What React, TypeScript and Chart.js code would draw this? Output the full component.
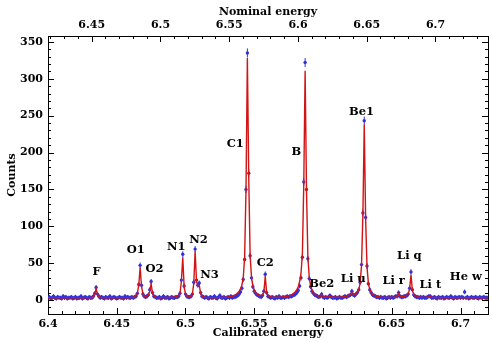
import React, { useEffect, useRef } from 'react';
import { Chart, registerables } from 'chart.js';

Chart.register(...registerables);

// ---- data ----
const binStart = 6.4; // calibrated energy of first bin
const binWidth = 0.001;

// measured counts, one per bin (rows of 20 bins = 0.02 in energy)
const counts = [
  3, 4, 2, 3, 5, 3, 2, 4, 3, 3, 2, 5, 3, 4, 2, 3, 3, 4, 2, 3,
  4, 2, 3, 3, 5, 2, 3, 4, 3, 2, 4, 3, 3, 5, 9, 17, 8, 5, 3, 4,
  3, 2, 4, 3, 3, 5, 2, 3, 4, 3, 2, 3, 4, 3, 3, 2, 5, 3, 4, 3,
  3, 4, 3, 4, 5, 9, 21, 47, 20, 8, 5, 4, 5, 7, 14, 25, 10, 5, 4, 3,
  3, 4, 2, 3, 5, 3, 3, 4, 2, 3, 4, 3, 3, 4, 4, 5, 9, 27, 62, 19,
  8, 5, 4, 4, 5, 8, 24, 69, 27, 20, 23, 10, 5, 4, 3, 4, 3, 2, 4, 3,
  3, 5, 3, 2, 4, 6, 3, 3, 4, 2, 3, 4, 3, 5, 3, 4, 4, 5, 6, 8,
  11, 16, 28, 55, 150, 335, 172, 60, 30, 18, 12, 9, 7, 6, 5, 4, 6, 12, 35, 10,
  5, 4, 3, 4, 3, 2, 4, 3, 5, 3, 3, 4, 3, 4, 5, 4, 5, 5, 6, 7,
  8, 10, 13, 19, 30, 58, 160, 322, 150, 56, 29, 18, 12, 9, 7, 6, 5, 4, 5, 8,
  4, 3, 4, 3, 4, 6, 4, 3, 3, 4, 2, 3, 4, 3, 3, 4, 5, 4, 5, 6,
  7, 12, 7, 6, 8, 10, 14, 24, 48, 118, 243, 112, 46, 22, 14, 10, 7, 6, 5, 4,
  4, 3, 4, 3, 3, 4, 2, 3, 4, 3, 4, 3, 4, 5, 5, 10, 5, 4, 4, 5,
  5, 6, 8, 16, 38, 14, 7, 5, 4, 4, 3, 4, 3, 4, 3, 3, 4, 5, 5, 3,
  3, 4, 3, 2, 4, 3, 3, 4, 2, 3, 4, 3, 3, 5, 3, 2, 4, 3, 3, 4,
  3, 4, 3, 11, 3, 4, 2, 3, 4, 3, 3, 4, 3, 2, 4, 3, 3, 4, 3, 3,
  3,
];

// fitted model, one per bin
const fit = [
  2.8, 2.8, 2.8, 2.8, 2.8, 2.8, 2.8, 2.8, 2.8, 2.8, 2.8, 2.8, 2.8, 2.8, 2.8, 2.8, 2.8, 2.8, 2.8, 2.8,
  2.8, 2.8, 2.8, 2.8, 2.8, 2.8, 2.8, 2.8, 2.8, 2.8, 2.8, 2.8, 3.2, 4.5, 8, 15, 7.5, 4.2, 3.3, 3,
  2.9, 2.9, 2.9, 2.9, 2.9, 2.9, 2.9, 2.9, 2.9, 2.9, 2.9, 2.9, 2.9, 2.9, 2.9, 2.9, 2.9, 3, 3, 3.1,
  3.2, 3.4, 3.7, 4.3, 5.5, 9, 20, 44, 19, 8.5, 5.5, 4.8, 5.2, 6.5, 12, 22, 9.5, 5.3, 4, 3.5,
  3.2, 3.1, 3, 3, 3.1, 3.2, 3.3, 3.4, 3.5, 3.6, 3.7, 3.8, 4, 4.3, 5, 6, 9, 25, 58, 18,
  8, 5.5, 4.8, 4.8, 5.5, 8, 22, 66, 26, 19, 20, 9, 5.5, 4.3, 3.8, 3.5, 3.3, 3.2, 3.1, 3.1,
  3.1, 3.1, 3.1, 3.2, 3.2, 3.3, 3.4, 3.5, 3.6, 3.7, 3.9, 4.1, 4.4, 4.8, 5.3, 6, 6.8, 8, 9.7, 12,
  15, 20, 30, 58, 150, 328, 165, 60, 31, 19, 13, 10, 8, 6.8, 6, 5.8, 6.5, 11, 32, 10,
  6, 4.8, 4.3, 4, 3.8, 3.7, 3.7, 3.7, 3.8, 3.9, 4, 4.2, 4.4, 4.7, 5, 5.4, 6, 6.8, 7.8, 9.5,
  11.5, 14, 18, 25, 36, 62, 155, 311, 148, 58, 31, 19, 13, 10, 8, 6.6, 5.8, 5.3, 5.4, 7,
  4.8, 4.3, 4, 3.9, 4.2, 5, 4.2, 3.8, 3.7, 3.7, 3.7, 3.8, 3.9, 4, 4.2, 4.4, 4.7, 5, 5.6, 6.8,
  8, 10, 8, 7.8, 8.6, 10.5, 14, 23, 46, 115, 238, 110, 45, 23, 14.5, 10.5, 8, 6.6, 5.7, 5,
  4.6, 4.2, 3.9, 3.7, 3.6, 3.5, 3.4, 3.4, 3.4, 3.4, 3.5, 3.6, 3.8, 4.1, 5, 9, 5, 4.3, 4.5, 5,
  5.5, 6.5, 8.5, 15, 34, 13, 7.5, 5.5, 4.6, 4.1, 3.8, 3.6, 3.5, 3.5, 3.5, 3.6, 3.9, 4.3, 4, 3.6,
  3.4, 3.3, 3.2, 3.2, 3.1, 3.1, 3.1, 3.1, 3, 3, 3, 3, 3, 3, 3, 3, 3, 3, 3, 3,
  3, 3, 3, 3, 3, 3, 3, 3, 3, 3, 3, 3, 3, 3, 3, 3, 3, 3, 3, 3,
  3,
];

// error-bar half-length as drawn: a floor plus a part growing with sqrt(counts)
const errFloor = 2.5;
const errScale = 0.2;

const calibratedTicks = [6.4, 6.45, 6.5, 6.55, 6.6, 6.65, 6.7];
const nominalTicks = [6.45, 6.5, 6.55, 6.6, 6.65, 6.7];
const countTicks = [0, 50, 100, 150, 200, 250, 300, 350];
const nominalOffset = 0.0182; // nominal = calibrated + offset

const peakNames = ['F', 'O1', 'O2', 'N1', 'N2', 'N3', 'C1', 'C2', 'B', 'Be2', 'Li u', 'Be1', 'Li r', 'Li q', 'Li t', 'He w'];
const peakLabelEnergy = [6.4353, 6.4638, 6.4775, 6.4933, 6.5094, 6.5174, 6.5362, 6.558, 6.5807, 6.5991, 6.622, 6.628, 6.6514, 6.6628, 6.6781, 6.7039];
const peakLabelCount = [38, 68, 42, 72, 81, 34, 211, 50, 201, 22, 29, 255, 26, 59, 20, 31];

const xMin = 6.4;
const xMax = 6.72;
const yMin = -19;
const yMax = 358;

const FONT = 'DejaVu Serif';
const BLUE = 'rgb(50,50,220)';
const RED = 'rgb(210,20,20)';

const inwardTicks = {
  id: 'inwardTicks',
  afterDraw(chart: any) {
    const { ctx, chartArea: a, scales } = chart;
    const x = scales.x, x2 = scales.x2, y = scales.y;
    ctx.save();
    ctx.strokeStyle = '#000';
    ctx.lineWidth = 1;
    ctx.beginPath();
    const majorLen = 6, minorLen = 3;
    for (let k = Math.ceil(x.min * 100 - 1e-6); k <= Math.floor(x.max * 100 + 1e-6); k++) {
      const px = Math.round(x.getPixelForValue(k / 100)) + 0.5;
      const len = k % 5 === 0 ? majorLen : minorLen;
      ctx.moveTo(px, a.bottom);
      ctx.lineTo(px, a.bottom - len);
    }
    for (let k = Math.ceil(x2.min * 100 - 1e-6); k <= Math.floor(x2.max * 100 + 1e-6); k++) {
      const px = Math.round(x2.getPixelForValue(k / 100)) + 0.5;
      const len = k % 5 === 0 ? majorLen : minorLen;
      ctx.moveTo(px, a.top);
      ctx.lineTo(px, a.top + len);
    }
    for (let k = Math.ceil(y.min / 10); k <= Math.floor(y.max / 10); k++) {
      const py = Math.round(y.getPixelForValue(k * 10)) + 0.5;
      const len = k % 5 === 0 ? majorLen : minorLen;
      ctx.moveTo(a.left, py);
      ctx.lineTo(a.left + len, py);
      ctx.moveTo(a.right, py);
      ctx.lineTo(a.right - len, py);
    }
    ctx.stroke();
    ctx.restore();
  },
};

const errorBars = {
  id: 'errorBars',
  afterDatasetDraw(chart: any, args: any) {
    if (args.index !== 1) return;
    const { ctx, chartArea: a, scales } = chart;
    const x = scales.x, y = scales.y;
    ctx.save();
    ctx.beginPath();
    ctx.rect(a.left, a.top, a.right - a.left, a.bottom - a.top);
    ctx.clip();
    ctx.strokeStyle = BLUE;
    ctx.lineWidth = 1;
    ctx.beginPath();
    counts.forEach((c, i) => {
      const e = errFloor + Math.sqrt(c) * errScale;
      const px = x.getPixelForValue(binStart + i * binWidth);
      ctx.moveTo(px, y.getPixelForValue(c - e));
      ctx.lineTo(px, y.getPixelForValue(c + e));
    });
    ctx.stroke();
    ctx.restore();
  },
};

const peakLabels = {
  id: 'peakLabels',
  afterDraw(chart: any) {
    const { ctx, scales } = chart;
    ctx.save();
    ctx.fillStyle = '#000';
    ctx.font = `bold 11.5px "${FONT}"`;
    ctx.textAlign = 'center';
    ctx.textBaseline = 'middle';
    peakNames.forEach((n, i) => {
      ctx.fillText(n, scales.x.getPixelForValue(peakLabelEnergy[i]), scales.y.getPixelForValue(peakLabelCount[i]));
    });
    ctx.restore();
  },
};

const fmt = (v: number) => String(Number(v.toFixed(2)));

export default function App() {
  const ref = useRef<HTMLCanvasElement>(null);
  useEffect(() => {
    document.body.style.margin = '0';
    const tickFont = { family: FONT, size: 11, weight: 'bold' as const };
    const titleFont = { family: FONT, size: 11, weight: 'bold' as const };
    const chart = new Chart(ref.current!, {
      type: 'line',
      data: {
        datasets: [
          {
            label: 'fit',
            data: fit.map((f, i) => ({ x: binStart + i * binWidth, y: f })),
            borderColor: RED,
            borderWidth: 1.4,
            pointRadius: 0,
            tension: 0,
          },
          {
            label: 'data',
            data: counts.map((c, i) => ({ x: binStart + i * binWidth, y: c })),
            showLine: false,
            pointRadius: 1.7,
            pointBorderWidth: 0,
            pointBackgroundColor: BLUE,
            borderColor: BLUE,
          },
        ],
      },
      options: {
        animation: false,
        responsive: false,
        devicePixelRatio: 1,
        layout: { padding: 0 },
        plugins: { legend: { display: false }, tooltip: { enabled: false } },
        scales: {
          x: {
            type: 'linear',
            position: 'bottom',
            min: xMin,
            max: xMax,
            afterBuildTicks: (s: any) => { s.ticks = calibratedTicks.map((v) => ({ value: v })); },
            afterFit: (s: any) => { s.height = 28; },
            grid: { display: false, drawTicks: false },
            border: { display: true, color: '#000', width: 1 },
            ticks: { font: tickFont, color: '#000', padding: 4, autoSkip: false, maxRotation: 0, callback: (v: any) => fmt(Number(v)) },
            title: { display: true, text: 'Calibrated energy', font: titleFont, color: '#000', padding: { top: 0, bottom: 2 } },
          },
          x2: {
            type: 'linear',
            position: 'top',
            min: xMin + nominalOffset,
            max: xMax + nominalOffset,
            afterBuildTicks: (s: any) => { s.ticks = nominalTicks.map((v) => ({ value: v })); },
            afterFit: (s: any) => { s.height = 36; },
            grid: { display: false, drawTicks: false },
            border: { display: true, color: '#000', width: 1 },
            ticks: { font: tickFont, color: '#000', padding: 4, autoSkip: false, maxRotation: 0, callback: (v: any) => fmt(Number(v)) },
            title: { display: true, text: 'Nominal energy', font: titleFont, color: '#000', padding: { top: 6, bottom: 0 } },
          },
          y: {
            type: 'linear',
            position: 'left',
            min: yMin,
            max: yMax,
            afterBuildTicks: (s: any) => { s.ticks = countTicks.map((v) => ({ value: v })); },
            afterFit: (s: any) => { s.width = 48; },
            grid: { display: false, drawTicks: false },
            border: { display: true, color: '#000', width: 1 },
            ticks: { font: tickFont, color: '#000', padding: 5 },
            title: { display: true, text: 'Counts', font: titleFont, color: '#000', padding: { top: 6, bottom: 0 } },
          },
          y2: {
            type: 'linear',
            position: 'right',
            min: yMin,
            max: yMax,
            afterFit: (s: any) => { s.width = 3; },
            grid: { display: false, drawTicks: false },
            border: { display: true, color: '#000', width: 1 },
            ticks: { display: false },
          },
        },
      },
      plugins: [errorBars, inwardTicks, peakLabels],
    } as any);
    return () => chart.destroy();
  }, []);
  return <canvas ref={ref} width={492} height={342} style={{ display: 'block' }} />;
}
